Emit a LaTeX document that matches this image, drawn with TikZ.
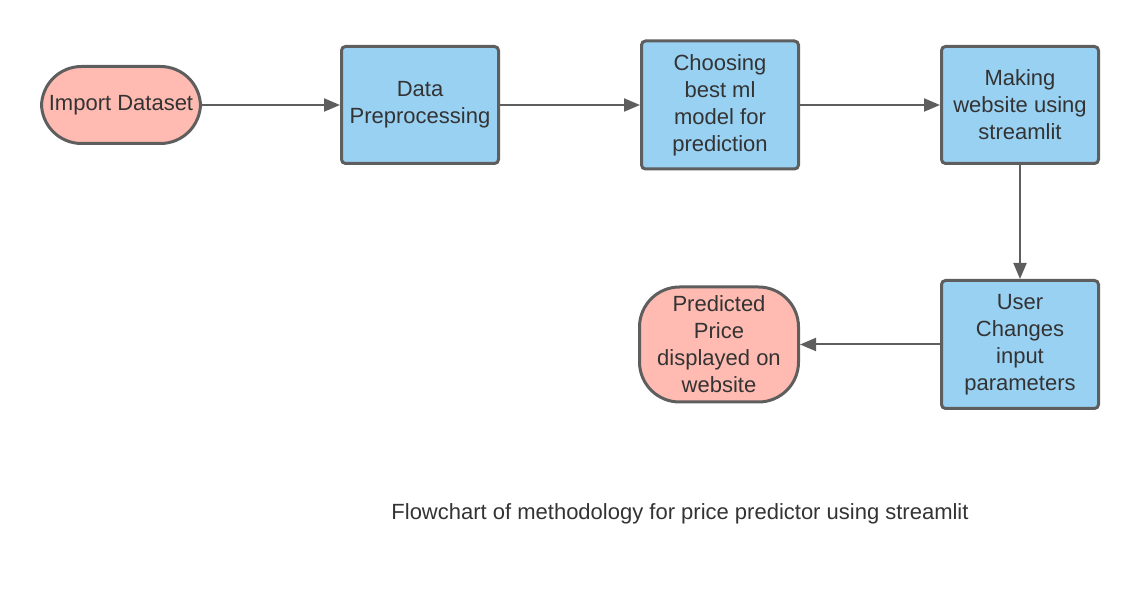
\documentclass[tikz,border=0pt]{standalone}
\usepackage{fontspec}
\setmainfont{Liberation Sans}
\usetikzlibrary{arrows.meta,positioning}
\definecolor{ink}{HTML}{333333}
\definecolor{edge}{HTML}{5E5E5E}
\definecolor{bluefill}{HTML}{99D1F3}
\definecolor{pinkfill}{HTML}{FFBBB1}
\tikzset{
  every node/.style={font=\fontsize{11}{13.5}\selectfont, text=ink},
  stepbox/.style={draw=edge, fill=bluefill, rounded corners=2pt, line width=1.5pt, align=center, minimum width=78.5pt, minimum height=58.5pt},
  endbox/.style={draw=edge, fill=pinkfill, rounded corners=20pt, line width=1.5pt, align=center, minimum width=79.5pt},
  arrow/.style={-{Triangle[length=8pt,width=6.5pt]}, line width=1pt, draw=edge},
  caption/.style={font=\fontsize{11}{13.5}\selectfont, text=ink},
}

\begin{document}
\begin{tikzpicture}[node distance=57pt and 70pt]
\useasboundingbox (0,0) rectangle (570pt,-307pt);
\node[endbox, minimum height=38.5pt] (import) at (60.5pt,-52.5pt) {Import Dataset};
\node[stepbox, right=69pt of import] (prep) {Data\\Preprocessing};
\node[stepbox, right=of prep, minimum height=64pt] (model) {Choosing\\best ml\\model for\\prediction};
\node[stepbox, right=of model] (site) {Making\\website using\\streamlit};
\node[stepbox, below=of site, minimum height=64pt] (user) {User\\Changes\\input\\parameters};
\node[endbox, left=of user, minimum height=57.5pt] (price) {Predicted\\Price\\displayed on\\website};
\draw[arrow] (import) -- (prep);
\draw[arrow] (prep) -- (model);
\draw[arrow] (model) -- (site);
\draw[arrow] (site) -- (user);
\draw[arrow] (user) -- (price);
\node[caption] (cap) at (340pt,-257pt) {Flowchart of methodology for price predictor using streamlit};
\end{tikzpicture}
\end{document}
